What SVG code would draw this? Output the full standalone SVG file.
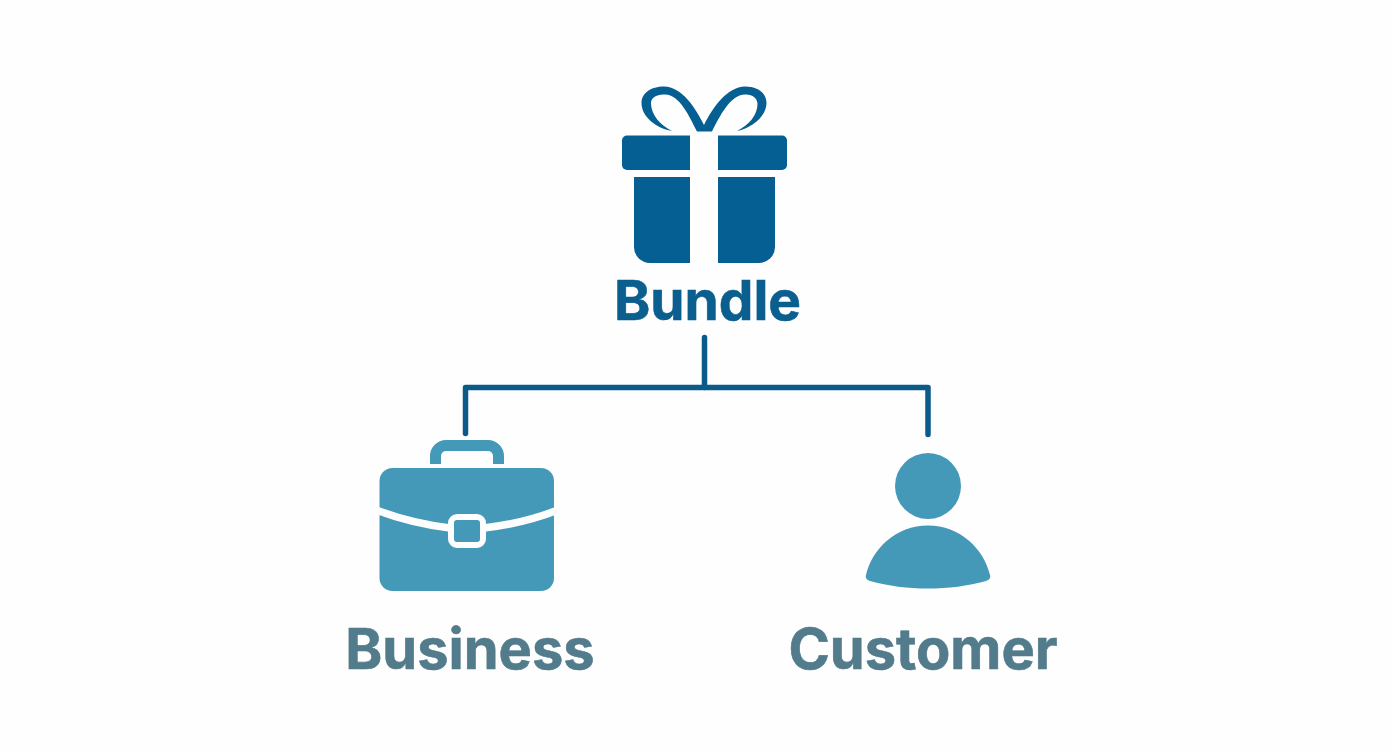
<svg xmlns="http://www.w3.org/2000/svg" width="1392" height="752" viewBox="0 0 1392 752">
<style>
.dark{fill:#065f92}
.teal{fill:#4499b8}
.lab{font-family:Inter,"Liberation Sans",sans-serif;font-weight:700;text-anchor:middle;stroke-width:.6}
.conn{fill:none;stroke:#0a5a8a;stroke-width:5.500;stroke-linecap:round;stroke-linejoin:round}
.gap{fill:none;stroke:#fefefe;stroke-width:7.500}
</style>
<rect width="1392" height="752" fill="#fefefe"/>
<g id="connectors">
<path class="conn" d="M704.500 337.500V387.500"/>
<path class="conn" d="M465.500 433.500V387.500H928V434.500"/>
</g>
<g id="bundle">
<path class="dark" d="M697 131.500C689 116 680 95 665 94.500C656 94 650.500 98 651 104C651.500 115 660 125 672 131C655 128 641.500 116 641.500 103C641.500 93 651 86.500 664 86.500C682 87 695 107 704 125C713 107 727 87 745 86.500C758 86.500 766.500 93 766.500 103C766.500 116 752 128 737 131C749 125 757.500 115 757.500 104C757.500 98 752 94 745 94.500C730 95 720 116 712 131.500Z"/>
<path class="dark" d="M690 135.500V170H627a5 5 0 0 1-5-5V140.500a5 5 0 0 1 5-5Z"/>
<path class="dark" d="M718 135.500V170H782a5 5 0 0 0 5-5V140.500a5 5 0 0 0-5-5Z"/>
<path class="dark" d="M634 177H690V263H650a16 16 0 0 1-16-16Z"/>
<path class="dark" d="M718 177H775V247a16 16 0 0 1-16 16H718Z"/>
<text class="lab" x="707.500" y="320" font-size="55" fill="#0b5f8f" stroke="#0b5f8f">Bundle</text>
</g>
<g id="business">
<path d="M435.500 464V456a10.500 10.500 0 0 1 10.500-10.500H488a10.500 10.500 0 0 1 10.500 10.500V464" fill="none" stroke="#4499b8" stroke-width="11"/>
<rect class="teal" x="379.500" y="468" width="174.500" height="123" rx="13"/>
<path class="gap" d="M376 510C400 519 425 525 450 528M484 528C510 525 535 519 558 510"/>
<rect x="451" y="517" width="32" height="28" rx="6" fill="#4499b8" stroke="#fefefe" stroke-width="6"/>
<text class="lab" x="470" y="668.500" font-size="56" fill="#527b8b" stroke="#527b8b">Business</text>
</g>
<g id="customer">
<circle class="teal" cx="928" cy="486" r="33"/>
<path class="teal" d="M866 575C872 549 896 525.500 928 525.500C960 525.500 984 549 990 575C991 578 989 580 986 581C950 591 906 591 870 581C867 580 865 578 866 575Z"/>
<text class="lab" x="923" y="668.500" font-size="56" fill="#527b8b" stroke="#527b8b">Customer</text>
</g>
</svg>
